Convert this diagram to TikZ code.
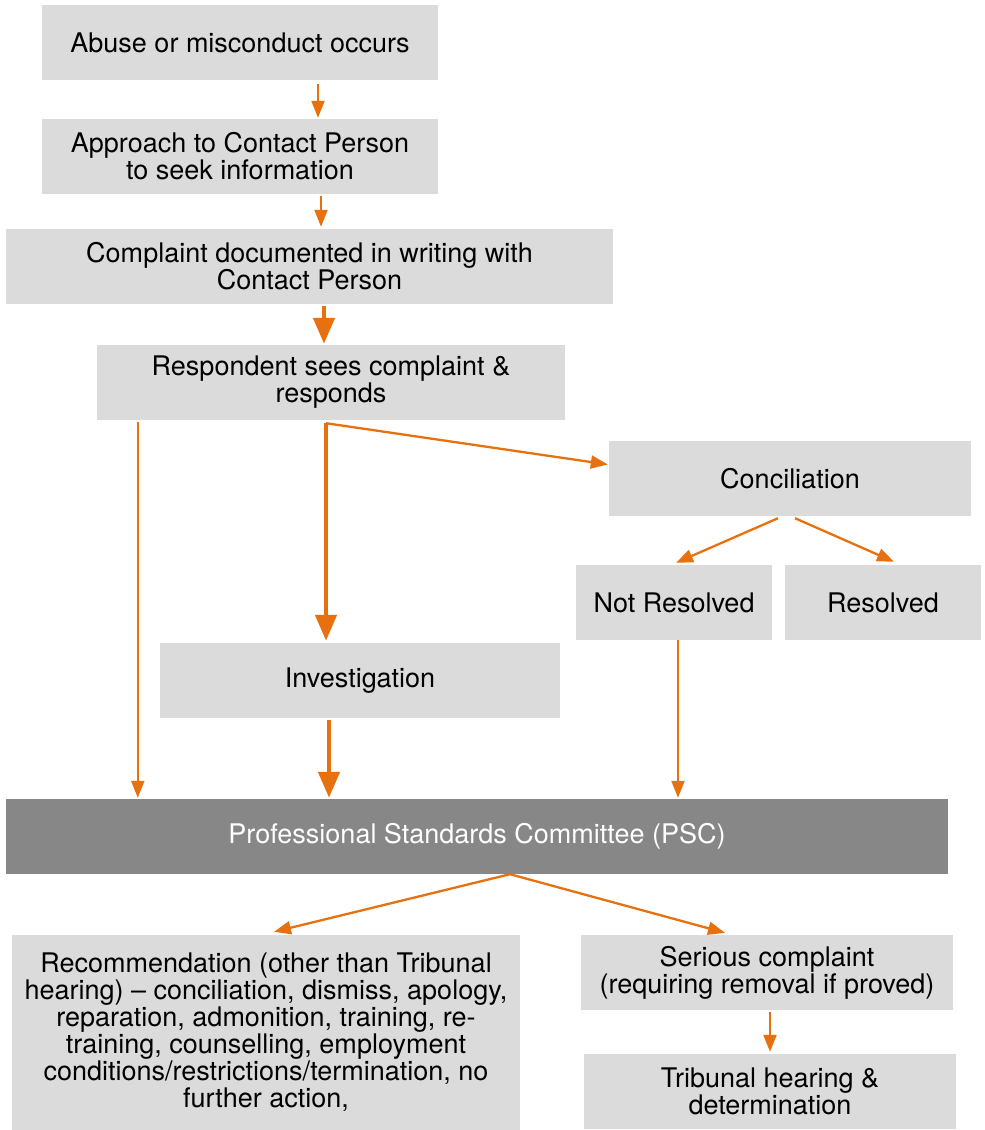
\documentclass[tikz,border=0pt]{standalone}
\usepackage{fontspec}
\setmainfont{TeX Gyre Heros}
\usetikzlibrary{arrows.meta}
\definecolor{boxgray}{HTML}{DBDBDB}
\definecolor{pscgray}{HTML}{878787}
\definecolor{flow}{HTML}{E8710F}

\begin{document}
\begin{tikzpicture}[x=1pt,y=-1pt,
  box/.style={fill=boxgray,inner sep=0pt,align=center,minimum height=75pt,
    font=\fontsize{27}{27}\selectfont},
  flowline/.style={draw=flow,line width=2.3pt,-{Triangle[length=17pt,width=13pt]}},
  flowheavy/.style={draw=flow,line width=4.5pt,-{Triangle[length=26pt,width=21pt]}}]
  \useasboundingbox (0,0) rectangle (985,1130);

  \node[box,minimum width=396pt] (abuse) at (240,42.5) {Abuse or misconduct occurs};
  \node[box,minimum width=396pt] (approach) at (240,156.5) {Approach to Contact Person\\to seek information};
  \node[box,minimum width=607pt] (complaint) at (309.5,266.5) {Complaint documented in writing with\\Contact Person};
  \node[box,minimum width=468pt] (respond) at (331,382.5) {Respondent sees complaint \&\\responds};
  \node[box,minimum width=362pt] (concil) at (790,478.5) {Conciliation};
  \node[box,minimum width=196pt] (notres) at (674,602.5) {Not Resolved};
  \node[box,minimum width=196pt] (resolved) at (883,602.5) {Resolved};
  \node[box,minimum width=400pt] (invest) at (360,680.5) {Investigation};
  \node[box,minimum width=942pt,fill=pscgray,text=white] (psc) at (477,836.5) {Professional Standards Committee (PSC)};
  \node[box,minimum width=508pt,minimum height=195pt] (recomm) at (266,1032.5)
    {Recommendation (other than Tribunal\\hearing) – conciliation, dismiss, apology,\\reparation, admonition, training, re-\\training, counselling, employment\\conditions/restrictions/termination, no\\further action,};
  \node[box,minimum width=372pt] (serious) at (767,972.5) {Serious complaint\\(requiring removal if proved)};
  \node[box,minimum width=372pt] (tribunal) at (770,1091.5) {Tribunal hearing \&\\determination};

  \draw[flowline] ([shift={(78,4)}]abuse.south) -- ([shift={(78,-1)}]approach.north);
  \draw[flowline] ([shift={(81,2)}]approach.south) -- ([shift={(11.5,-2)}]complaint.north);
  \draw[flowheavy] ([shift={(14.5,2)}]complaint.south) -- ([shift={(-7,-1)}]respond.north);
  \draw[flowline] ([shift={(41,2)}]respond.south west) -- ([shift={(132,-1)}]psc.north west);
  \draw[flowheavy] ([shift={(-5,3)}]respond.south) -- ([shift={(-34,-2)}]invest.north);
  \draw[flowline] ([shift={(-5,3)}]respond.south) -- ([shift={(-1,-14)}]concil.west);
  \draw[flowheavy] ([shift={(-31,2)}]invest.south) -- ([shift={(-148,-1)}]psc.north);
  \draw[flowline] ([shift={(-12,2)}]concil.south) -- ([shift={(2,-2)}]notres.north);
  \draw[flowline] ([shift={(5,2)}]concil.south) -- ([shift={(11,-3)}]resolved.north);
  \draw[flowline] ([shift={(4,0)}]notres.south) -- ([shift={(201,-1)}]psc.north);
  \draw[flowline] ([shift={(33,0)}]psc.south) -- ([shift={(8,-3)}]recomm.north);
  \draw[flowline] ([shift={(33,0)}]psc.south) -- ([shift={(-42,-2)}]serious.north);
  \draw[flowline] ([shift={(3,2)}]serious.south) -- ([shift={(0,-2)}]tribunal.north);
\end{tikzpicture}
\end{document}
